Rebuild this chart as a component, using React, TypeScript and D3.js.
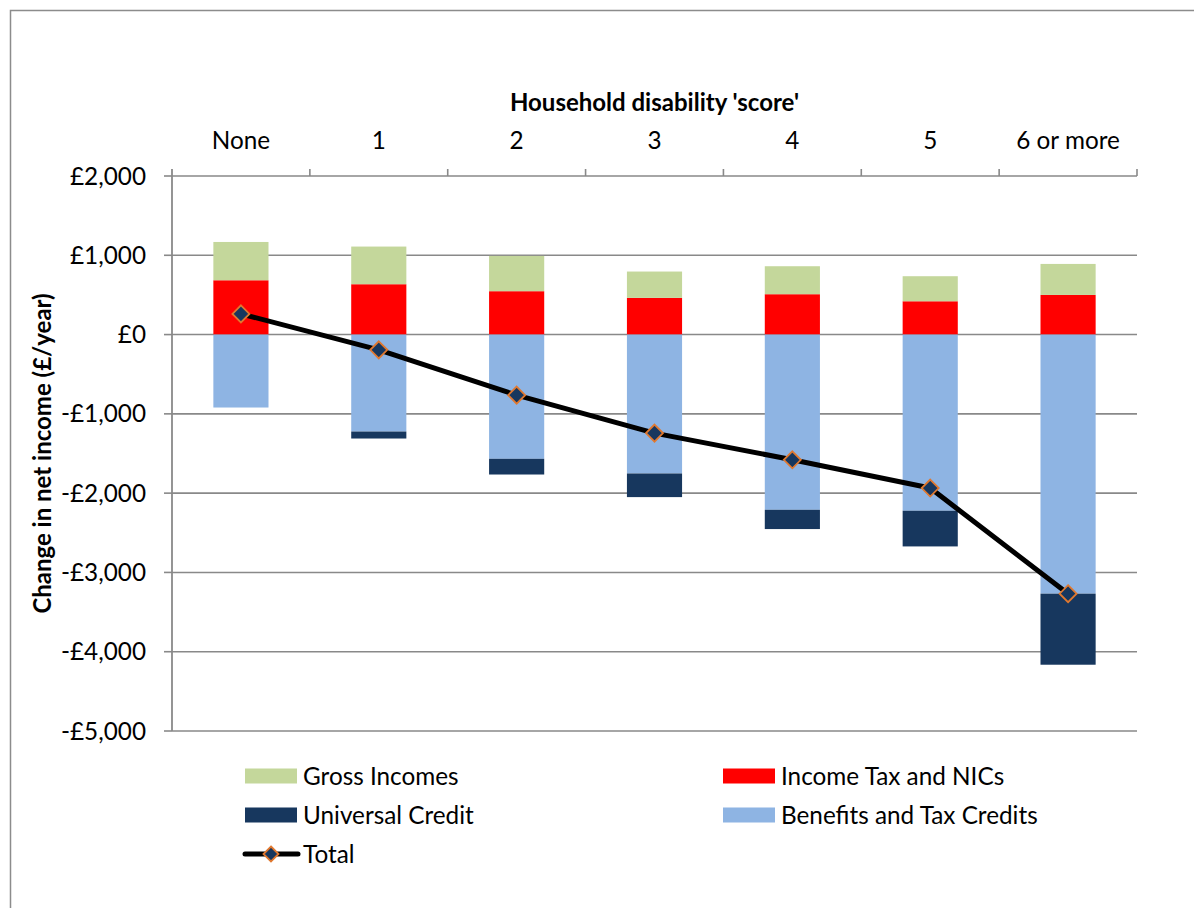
import React from 'react';
import * as d3 from 'd3';

const categories = ['None', '1', '2', '3', '4', '5', '6 or more'];
const grossIncomes = [483, 475, 445, 332, 353, 316, 391];
const incomeTax = [685, 635, 547, 463, 509, 420, 500];
const universalCredit = [0, -88, -198, -298, -243, -450, -896];
const benefits = [-920, -1223, -1567, -1752, -2210, -2222, -3268];
const total = [261, -193, -764, -1243, -1579, -1936, -3268];
const yTicks = [2000, 1000, 0, -1000, -2000, -3000, -4000, -5000];

const seriesKeys = ['incomeTax', 'gross', 'benefits', 'uc'];
const seriesColors: Record<string, string> = {
  gross: '#C4D79B',
  incomeTax: '#FF0000',
  uc: '#17375E',
  benefits: '#8EB4E3',
};

const FONT = 'Lato, "Open Sans", sans-serif';
const FS = 24.3;
const FS_BOLD = 24;

export default function App() {
  const W = 1194, H = 908;
  const left = 172, right = 1137, top = 176, bottom = 731;

  const xBand = d3.scaleBand<string>().domain(categories).range([left, right]).paddingInner(0.6).paddingOuter(0.3);
  const xStep = d3.scaleBand<string>().domain(categories).range([left, right]).padding(0);
  const y = d3.scaleLinear().domain([-5000, 2000]).range([bottom, top]);

  const rows = categories.map((c, i) => ({
    cat: c,
    gross: grossIncomes[i],
    incomeTax: incomeTax[i],
    uc: universalCredit[i],
    benefits: benefits[i],
  }));
  const stacked = d3.stack<any>().keys(seriesKeys).offset(d3.stackOffsetDiverging)(rows);

  const fmt = d3.format(',');
  const money = (v: number) => (v < 0 ? '-£' + fmt(-v) : '£' + fmt(v));

  const cx = (c: string) => (xBand(c) as number) + xBand.bandwidth() / 2;
  const line = d3.line<number>().x((_, i) => cx(categories[i])).y((d) => y(d));

  const gridColor = '#898989';
  const diamond = (x0: number, y0: number, r: number) =>
    `M${x0},${y0 - r}L${x0 + r},${y0}L${x0},${y0 + r}L${x0 - r},${y0}Z`;

  const legend = [
    { label: 'Gross Incomes', key: 'gross', x: 245, y: 776 },
    { label: 'Income Tax and NICs', key: 'incomeTax', x: 723, y: 776 },
    { label: 'Universal Credit', key: 'uc', x: 245, y: 815 },
    { label: 'Benefits and Tax Credits', key: 'benefits', x: 723, y: 815 },
  ];

  return (
    <svg width={W} height={H} style={{ position: 'absolute', left: 0, top: 0, background: '#fff' }} fontFamily={FONT}>
      <rect x={0} y={0} width={W} height={H} fill="#fff" />
      <rect x={10.5} y={10.5} width={1300} height={1000} fill="none" stroke="#8c8c8c" strokeWidth={1.5} />

      {/* gridlines */}
      {yTicks.map((t) => (
        <g key={t}>
          <line x1={left} x2={right} y1={y(t)} y2={y(t)} stroke={gridColor} strokeWidth={1.6} />
          <line x1={left - 8} x2={left} y1={y(t)} y2={y(t)} stroke={gridColor} strokeWidth={1.6} />
          <text x={146} y={y(t)} dy="0.35em" textAnchor="end" fontSize={FS} fill="#000">
            {money(t)}
          </text>
        </g>
      ))}

      {/* y axis line */}
      <line x1={left} x2={left} y1={top - 7} y2={bottom} stroke={gridColor} strokeWidth={1.8} />

      {/* category ticks at top */}
      {categories.map((c) => (
        <line key={'t' + c} x1={(xStep(c) as number) + xStep.step()} x2={(xStep(c) as number) + xStep.step()} y1={top - 7} y2={top} stroke={gridColor} strokeWidth={1.6} />
      ))}

      {/* category labels */}
      {categories.map((c) => (
        <text key={'l' + c} x={cx(c)} y={149} textAnchor="middle" fontSize={FS} fill="#000">
          {c}
        </text>
      ))}

      {/* titles */}
      <text x={(left + right) / 2} y={111} textAnchor="middle" fontSize={FS_BOLD} fontWeight="bold" fill="#000">
        Household disability 'score'
      </text>
      <text transform={`translate(51,${(top + bottom) / 2}) rotate(-90)`} textAnchor="middle" fontSize={FS_BOLD} fontWeight="bold" fill="#000">
        Change in net income (£/year)
      </text>

      {/* bars */}
      {stacked.map((s) => (
        <g key={s.key} fill={seriesColors[s.key]}>
          {s.map((d, i) => {
            const y0 = y(Math.max(d[0], d[1]));
            const y1 = y(Math.min(d[0], d[1]));
            if (Math.abs(y1 - y0) < 0.01) return null;
            return <rect key={i} x={xBand(categories[i])} y={y0} width={xBand.bandwidth()} height={y1 - y0} />;
          })}
        </g>
      ))}

      {/* total line */}
      <path d={line(total) as string} fill="none" stroke="#000" strokeWidth={5} strokeLinejoin="round" />
      {total.map((v, i) => (
        <path key={'d' + i} d={diamond(cx(categories[i]), y(v), 8.5)} fill="#17375E" stroke="#E0782F" strokeWidth={1.8} />
      ))}

      {/* legend */}
      {legend.map((l) => (
        <g key={l.key}>
          <rect x={l.x} y={l.y - 7.5} width={52} height={15} fill={seriesColors[l.key]} />
          <text x={l.x + 58} y={l.y} dy="0.35em" fontSize={FS} fill="#000">
            {l.label}
          </text>
        </g>
      ))}
      <g>
        <line x1={245} x2={298} y1={854} y2={854} stroke="#000" strokeWidth={5} strokeLinecap="round" />
        <path d={diamond(271, 854, 7.5)} fill="#17375E" stroke="#E0782F" strokeWidth={1.8} />
        <text x={303} y={854} dy="0.35em" fontSize={FS} fill="#000">
          Total
        </text>
      </g>
    </svg>
  );
}
